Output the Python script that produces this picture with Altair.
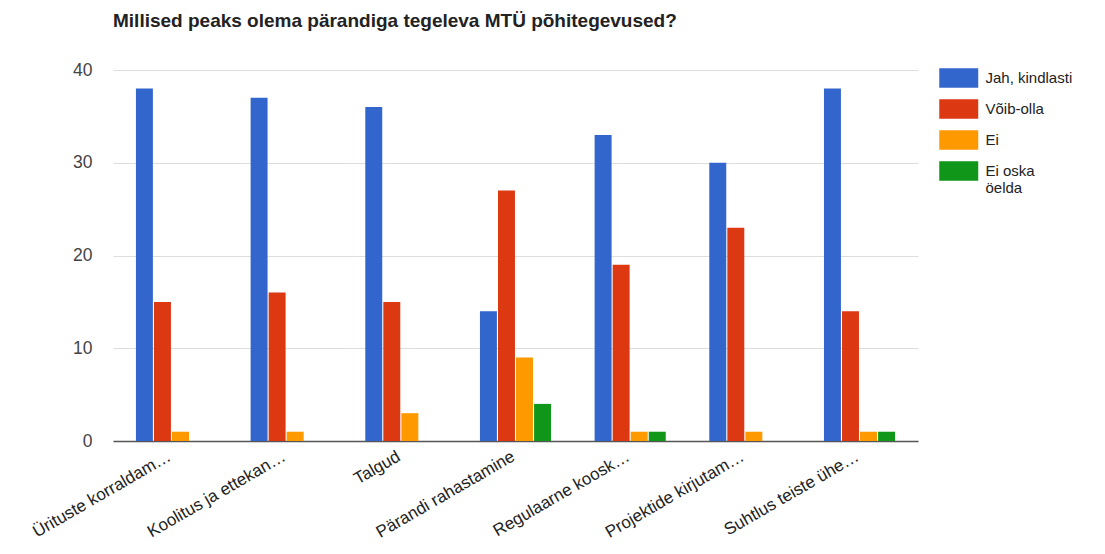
import altair as alt
import pandas as pd

categories = [
    "Ürituste korraldam…",
    "Koolitus ja ettekan…",
    "Talgud",
    "Pärandi rahastamine",
    "Regulaarne koosk…",
    "Projektide kirjutam…",
    "Suhtlus teiste ühe…",
]
series = ["Jah, kindlasti", "Võib-olla", "Ei", "Ei oska öelda"]
jah_kindlasti = [38, 37, 36, 14, 33, 30, 38]
voib_olla = [15, 16, 15, 27, 19, 23, 14]
ei = [1, 1, 3, 9, 1, 1, 1]
ei_oska_oelda = [0, 0, 0, 4, 1, 0, 1]
colors = ["#3366cc", "#dc3912", "#ff9900", "#109618"]
y_ticks = [0, 10, 20, 30, 40]

values = [jah_kindlasti, voib_olla, ei, ei_oska_oelda]
rows = []
for s, vals in zip(series, values):
    for c, v in zip(categories, vals):
        rows.append({"kategooria": c, "vastus": s, "arv": v})
df = pd.DataFrame(rows)

FONT = "Liberation Sans"

chart = (
    alt.Chart(df)
    .mark_bar()
    .encode(
        x=alt.X(
            "kategooria:N",
            sort=categories,
            scale=alt.Scale(paddingInner=0.38, paddingOuter=0.2),
            axis=alt.Axis(
                title=None,
                labelAngle=330,
                labelAlign="right",
                labelBaseline="top",
                labelPadding=7,
                labelOffset=-6,
                labelFontSize=17,
                labelColor="#222222",
                labelFont=FONT,
                ticks=False,
                domainColor="#555555",
                domainWidth=1.5,
                labelLimit=300,
            ),
        ),
        xOffset=alt.XOffset("vastus:N", sort=series, scale=alt.Scale(paddingInner=0.06)),
        y=alt.Y(
            "arv:Q",
            scale=alt.Scale(domain=[0, 40], nice=False),
            axis=alt.Axis(
                title=None,
                values=y_ticks,
                domain=False,
                ticks=False,
                labelPadding=21,
                labelFontSize=17.5,
                labelColor="#444444",
                labelFont=FONT,
                gridColor="#dddddd",
            ),
        ),
        color=alt.Color(
            "vastus:N",
            sort=series,
            scale=alt.Scale(domain=series, range=colors),
            legend=alt.Legend(
                title=None,
                orient="none",
                legendX=835.75,
                legendY=-2,
                symbolType="M-2,-1H2V1H-2Z",
                symbolSize=380,
                symbolStrokeWidth=0,
                labelOffset=16.75,
                labelFontSize=15,
                labelFont=FONT,
                labelColor="#222222",
                rowPadding=11,
                padding=0,
                labelLimit=200,
                labelExpr="datum.label == 'Ei oska öelda' ? ['Ei oska', 'öelda'] : datum.label",
            ),
        ),
    )
    .properties(
        width=805,
        height=371,
        title=alt.TitleParams(
            "Millised peaks olema pärandiga tegeleva MTÜ põhitegevused?",
            anchor="start",
            frame="group",
            font=FONT,
            fontSize=19,
            fontWeight="bold",
            color="#222222",
            offset=30,
        ),
        autosize=alt.AutoSizeParams(type="none"),
        padding={"left": 105, "top": 62, "right": 179, "bottom": 102},
    )
    .configure_view(stroke=None)
)

chart.save("out.html", embed_options={"renderer": "svg", "actions": False})
